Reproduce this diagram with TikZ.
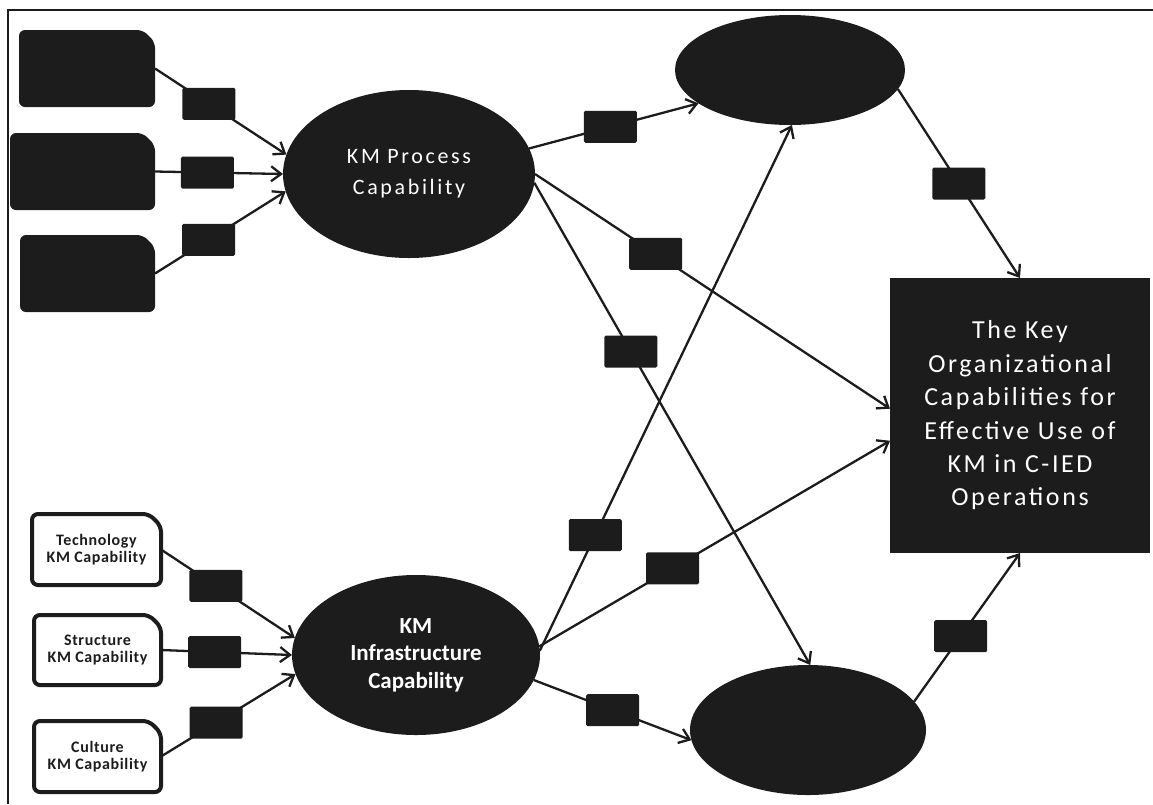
\documentclass[tikz,border=0pt]{standalone}
\usepackage{fontspec}
\setmainfont{Carlito}
\usetikzlibrary{shapes.geometric,arrows.meta,backgrounds}
\definecolor{ink}{RGB}{28,28,28}
% box with a snipped top-right corner, drawn from the corners of a named node
\newcommand\snipoutline[2]{%
  \path[#2] (#1.west) -- (#1.north west) -- ([xshift=-12pt]#1.north east)
    -- ([yshift=-12pt]#1.north east) -- (#1.south east) -- (#1.south west) -- cycle;}
\begin{document}
\begin{tikzpicture}[x=1pt,y=-1pt,
  wire/.style={draw=ink,line width=2.3pt},
  arr/.style={wire,-{Straight Barb[length=10pt,width=15pt,line width=2.3pt]}},
  lbl/.style={fill=ink,rounded corners=1.5pt,minimum width=53pt,minimum height=32pt,inner sep=0pt,outer sep=0pt},
  slot/.style={inner sep=0pt,outer sep=0pt,align=center},
  blob/.style={ellipse,fill=ink,inner sep=0pt,outer sep=0pt,text=white,align=center},
  darkfill/.style={fill=ink,rounded corners=6pt},
  lightbox/.style={fill=white,draw=ink,line width=4pt,rounded corners=6pt},
  smalltext/.style={font=\fontsize{16}{17}\selectfont\bfseries\addfontfeature{LetterSpace=4},text=ink}]
\useasboundingbox (0,0) rectangle (1153,804);

% frame
\draw[ink,line width=2.5pt] (8,804) -- (8,10) -- (1153,10);

% process inputs (top left)
\node[slot,minimum width=136pt,minimum height=77pt] (p1) at (87,68.5) {};
\node[slot,minimum width=145pt,minimum height=77pt] (p2) at (82.5,171.5) {};
\node[slot,minimum width=135pt,minimum height=77pt] (p3) at (87.5,273.5) {};

% infrastructure inputs (bottom left)
\node[slot,smalltext,minimum width=129pt,minimum height=71pt] (t1) at (96.5,549.5) {Technology\\KM Capability};
\node[slot,smalltext,minimum width=127pt,minimum height=70pt] (t2) at (97.5,650) {Structure\\KM Capability};
\node[slot,smalltext,minimum width=127pt,minimum height=71pt] (t3) at (97.5,756.5) {Culture\\KM Capability};

\begin{scope}[on background layer]
  \snipoutline{p1}{darkfill}
  \snipoutline{p2}{darkfill}
  \snipoutline{p3}{darkfill}
  \snipoutline{t1}{lightbox}
  \snipoutline{t2}{lightbox}
  \snipoutline{t3}{lightbox}
\end{scope}

% constructs
\node[blob,minimum width=252pt,minimum height=168pt,
  font=\fontsize{22}{31}\selectfont\addfontfeature{LetterSpace=12},text=white!85]
  (e1) at (409,174) {KM Process\\Capability};
\node[blob,minimum width=248pt,minimum height=160pt,font=\fontsize{23}{27.5}\selectfont\bfseries]
  (e2) at (416,655) {KM\\Infrastructure\\Capability};
\node[blob,minimum width=230pt,minimum height=110pt] (e3) at (790,70) {};
\node[blob,minimum width=236pt,minimum height=130pt] (e4) at (808,730) {};
\node[fill=ink,inner sep=0pt,outer sep=0pt,minimum width=260pt,minimum height=275pt,
  text=white,align=center,font=\fontsize{26}{33.4}\selectfont\addfontfeature{LetterSpace=10}]
  (r) at (1020,415.5)
  {The Key\\Organizational\\Capabilities for\\Effective Use of\\KM in C-IED\\Operations};

% indicator paths
\draw[arr] (p1.east) -- node[lbl,pos=.41] (l1) {} (e1.171);
\draw[arr] (p2.east) -- node[lbl,pos=.41] (l2) {} (e1.180);
\draw[arr] (p3.east) -- node[lbl,pos=.41] (l3) {} (e1.188);
\draw[arr] (t1.east) -- node[lbl,pos=.41] (l4) {} (e2.172);
\draw[arr] (t2.east) -- node[lbl,pos=.41] (l5) {} (e2.180);
\draw[arr] (t3.east) -- node[lbl,pos=.41] (l6) {} (e2.189);

% structural paths
\draw[arr] (e1.12) -- node[lbl,pos=.48] (m1) {} (e3.200);
\draw[arr] (e1.0) -- node[lbl,pos=.34] (m2) {} (r.177);
\draw[arr] (e1.-4) -- node[lbl,pos=.35] (m3) {} (e4.88);
\draw[arr] (e2.2) -- node[lbl,pos=.22] (m4) {} (e3.-88);
\draw[arr] (e2.4) -- node[lbl,pos=.38] (m5) {} (r.191);
\draw[arr] (e2.-12) -- node[lbl,pos=.5] (m6) {} (e4.185);
\draw[arr] (e3.-10) -- node[lbl,pos=.5] (m7) {} (r.north);
\draw[arr] (e4.15) -- node[lbl,pos=.44] (m8) {} (r.south);
\end{tikzpicture}
\end{document}
